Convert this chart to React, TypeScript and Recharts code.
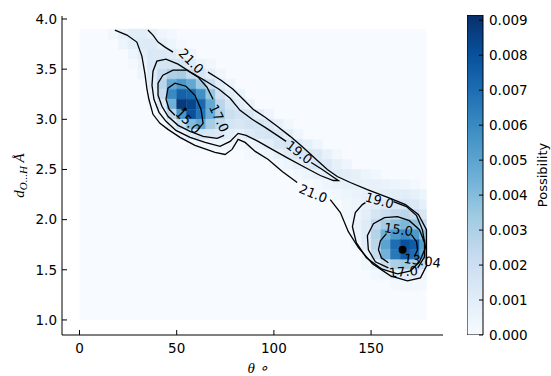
import React from 'react';
import {
  ScatterChart,
  Scatter,
  XAxis,
  YAxis,
  ReferenceArea,
  BarChart,
  Bar
} from 'recharts';

// axis ticks
const thetaTicks = [0, 50, 100, 150];
const distTicks = [1.0, 1.5, 2.0, 2.5, 3.0, 3.5, 4.0];
const probTicks = [0, 0.001, 0.002, 0.003, 0.004, 0.005, 0.006, 0.007, 0.008, 0.009];

// 2d histogram, 5 deg x 0.1 A bins, values in units of 1e-4
const THETA_BIN = 5;
const DIST_BIN = 0.1;
const THETA_MAX = 178.5;
const PROB_MAX = 0.00915;

const histRows = [
  { d: 3.8, t0: 15, v: [3, 7, 10, 10, 8, 4, 2] },
  { d: 3.7, t0: 20, v: [5, 9, 12, 12, 8, 5, 2] },
  { d: 3.6, t0: 25, v: [5, 9, 13, 13, 11, 8, 4] },
  { d: 3.5, t0: 25, v: [2, 6, 13, 16, 16, 16, 11, 6, 3] },
  { d: 3.4, t0: 30, v: [4, 12, 22, 30, 32, 24, 15, 9, 4] },
  { d: 3.3, t0: 35, v: [10, 26, 48, 55, 48, 34, 20, 10, 5] },
  { d: 3.2, t0: 35, v: [6, 22, 60, 74, 72, 58, 36, 18, 10, 6] },
  { d: 3.1, t0: 35, v: [3, 12, 45, 88, 84, 72, 48, 26, 16, 10, 6] },
  { d: 3.0, t0: 40, v: [5, 25, 55, 80, 68, 46, 30, 20, 17, 15, 9, 4] },
  { d: 2.9, t0: 45, v: [8, 20, 40, 48, 32, 24, 16, 14, 17, 16, 13, 7, 3] },
  { d: 2.8, t0: 50, v: [6, 12, 16, 14, 13, 9, 7, 12, 14, 16, 15, 10, 4] },
  { d: 2.7, t0: 55, v: [3, 4, 4, 5, 4, 3, 4, 6, 9, 14, 16, 12, 8, 4] },
  { d: 2.6, t0: 85, v: [2, 3, 5, 8, 11, 14, 16, 13, 7, 3] },
  { d: 2.5, t0: 100, v: [3, 5, 8, 12, 14, 13, 8, 4] },
  { d: 2.4, t0: 110, v: [3, 5, 7, 9, 11, 10, 8, 5, 3] },
  { d: 2.3, t0: 120, v: [2, 4, 6, 8, 8, 7, 7, 6, 5, 4, 2] },
  { d: 2.2, t0: 130, v: [3, 5, 6, 7, 8, 9, 9, 10, 8, 5] },
  { d: 2.1, t0: 135, v: [3, 5, 7, 10, 13, 14, 15, 13, 8] },
  { d: 2.0, t0: 135, v: [3, 5, 9, 16, 20, 24, 26, 22, 14] },
  { d: 1.9, t0: 140, v: [6, 11, 24, 32, 38, 42, 37, 24] },
  { d: 1.8, t0: 140, v: [5, 11, 28, 44, 54, 60, 54, 37] },
  { d: 1.7, t0: 140, v: [3, 9, 26, 50, 70, 80, 76, 52] },
  { d: 1.6, t0: 145, v: [5, 22, 44, 66, 76, 70, 48] },
  { d: 1.5, t0: 145, v: [3, 9, 20, 30, 34, 30, 20] },
  { d: 1.4, t0: 150, v: [3, 5, 8, 10, 9, 5] },
  { d: 1.3, t0: 160, v: [2, 3, 3, 2] }
];

// free energy contours, [theta, d]
const c21Left = [
  [18.2, 3.89], [24.4, 3.84], [29.5, 3.77], [32.1, 3.63], [33.7, 3.45], [34.7, 3.3],
  [35.7, 3.2], [37.8, 3.05], [41.4, 2.96], [45.5, 2.9], [51.7, 2.82], [59.4, 2.74],
  [69.7, 2.67], [74.9, 2.65], [78.5, 2.7], [81.6, 2.8], [85.2, 2.77], [90.4, 2.68],
  [97.1, 2.6], [104.3, 2.48], [112.0, 2.37]
];
const c21Right = [
  [129.0, 2.2], [134.2, 2.07], [138.3, 1.88], [143.5, 1.72], [150.7, 1.56], [160.0, 1.44],
  [168.7, 1.39], [175.4, 1.42], [178.5, 1.54], [178.5, 1.72], [178.5, 1.9], [174.4, 2.05],
  [167.7, 2.15], [158.9, 2.22], [148.1, 2.3], [139.3, 2.37], [132.6, 2.43], [127.5, 2.5],
  [121.8, 2.6], [115.1, 2.72], [108.4, 2.83], [101.7, 2.93], [95.5, 3.02], [89.3, 3.1],
  [84.2, 3.2], [79.0, 3.3], [72.8, 3.39], [66.1, 3.47]
];
const c21Top = [[48.1, 3.67], [44.0, 3.72], [40.4, 3.77], [37.8, 3.84], [35.2, 3.89]];
const c19Upper = [
  [119.2, 2.57], [124.9, 2.5], [130.1, 2.43], [133.2, 2.39], [130.6, 2.39], [123.9, 2.44],
  [116.1, 2.52], [107.4, 2.61], [99.1, 2.7], [91.9, 2.78], [85.7, 2.84], [81.6, 2.86],
  [77.5, 2.78], [72.3, 2.73], [64.6, 2.77], [56.9, 2.82], [49.6, 2.89], [44.5, 2.98],
  [40.9, 3.07], [38.3, 3.2], [37.3, 3.34], [37.8, 3.48], [39.8, 3.58], [44.5, 3.6],
  [50.7, 3.55], [58.0, 3.46], [65.1, 3.38], [71.8, 3.3], [77.5, 3.21], [82.6, 3.09],
  [88.8, 3.0], [95.5, 2.92], [101.7, 2.84], [106.3, 2.78]
];
const c19Lower = [
  [161.5, 2.18], [168.2, 2.13], [173.4, 2.04], [176.4, 1.9], [178.0, 1.72], [174.9, 1.58],
  [170.3, 1.49], [163.6, 1.46], [155.3, 1.51], [147.6, 1.62], [142.4, 1.77], [140.4, 1.93],
  [141.9, 2.07], [145.5, 2.15], [147.1, 2.17]
];
const c17Upper = [
  [68.7, 3.2], [65.6, 3.32], [61.0, 3.42], [55.3, 3.49], [48.1, 3.49], [42.9, 3.44],
  [40.4, 3.36], [40.4, 3.24], [42.4, 3.13], [45.5, 3.03], [50.7, 2.94], [56.9, 2.88],
  [63.6, 2.83], [70.8, 2.81], [74.4, 2.84]
];
const c17Lower = [
  [174.0, 1.52], [177.5, 1.63], [177.5, 1.77], [174.9, 1.9], [169.7, 1.99], [163.6, 2.03],
  [156.9, 2.02], [151.2, 1.96], [148.1, 1.84], [148.6, 1.7], [152.2, 1.58], [158.9, 1.52]
];
const c15Upper = [
  [61.0, 2.9], [63.6, 2.96], [62.5, 3.1], [59.4, 3.24], [54.8, 3.33], [49.1, 3.36],
  [45.5, 3.31], [44.5, 3.2], [46.1, 3.1], [49.1, 3.04]
];
const c15LowerLeft = [[157.9, 1.86], [154.8, 1.79], [153.8, 1.7], [155.3, 1.62], [158.9, 1.57]];
const c15LowerRight = [[170.7, 1.85], [173.4, 1.78], [173.9, 1.7], [172.3, 1.63]];

const contourLabels = [
  { x: 57.4, y: 3.58, text: '21.0', angle: 45 },
  { x: 71.8, y: 3.01, text: '17.0', angle: 65 },
  { x: 55.8, y: 2.98, text: '15.0', angle: 45 },
  { x: 113.0, y: 2.67, text: '19.0', angle: 38 },
  { x: 120.2, y: 2.26, text: '21.0', angle: 22 },
  { x: 154.3, y: 2.19, text: '19.0', angle: 16 },
  { x: 164.1, y: 1.9, text: '15.0', angle: 8 },
  { x: 176.4, y: 1.59, text: '13.04', angle: 8 },
  { x: 166.6, y: 1.48, text: '17.0', angle: -5 }
];

const globalMin = [{ x: 166.2, y: 1.7 }];
const localMin = [{ x: 54.3, y: 3.1 }];

const BLUES = ['#f7fbff', '#deebf7', '#c6dbef', '#9ecae1', '#6baed6', '#4292c6', '#2171b5', '#08519c', '#08306b'];

const hexToRgb = (h: string) => [1, 3, 5].map((i) => parseInt(h.slice(i, i + 2), 16));

const bluesAt = (t: number) => {
  const p = Math.max(0, Math.min(1, t)) * 8;
  const i = Math.min(7, Math.floor(p));
  const f = p - i;
  const a = hexToRgb(BLUES[i]);
  const b = hexToRgb(BLUES[i + 1]);
  const c = a.map((ch, k) => Math.round(ch + (b[k] - ch) * f));
  return `rgb(${c[0]},${c[1]},${c[2]})`;
};

const toPoints = (arr: number[][]) => arr.map(([x, y]) => ({ x, y }));

const cells = histRows.flatMap((row) =>
  row.v.map((val, i) => ({
    x1: row.t0 + i * THETA_BIN,
    x2: Math.min(row.t0 + (i + 1) * THETA_BIN, THETA_MAX),
    y1: row.d,
    y2: row.d + DIST_BIN,
    fill: bluesAt(val / 10000 / PROB_MAX)
  }))
);

const contours = [
  c21Left, c21Right, c21Top, c19Upper, c19Lower,
  c17Upper, c17Lower, c15Upper, c15LowerLeft, c15LowerRight
];

const colorbarData = [{ name: 'Possibility', top: PROB_MAX }];

const tickFont = { fill: '#000', fontSize: 13.5, fontFamily: 'DejaVu Sans' };
const frame = { stroke: '#000', strokeWidth: 1 };

const NoDot = () => <g />;

const ContourLabel = (props: any) => {
  const { cx, cy, payload } = props;
  return (
    <text
      x={cx}
      y={cy}
      transform={`rotate(${payload.angle} ${cx} ${cy})`}
      textAnchor="middle"
      dominantBaseline="central"
      fontSize={13}
      fontFamily="DejaVu Sans"
      fill="#000"
    >
      {payload.text}
    </text>
  );
};

const App: React.FC = () => {
  return (
    <div style={{ position: 'absolute', left: 0, top: 0, width: 551, height: 376, background: '#fff' }}>
      <div style={{ position: 'absolute', left: 0, top: 0 }}>
        <ScatterChart width={551} height={376} margin={{ top: 16, right: 108, bottom: 0, left: 0 }}>
          <XAxis
            type="number"
            dataKey="x"
            domain={[-9, 187]}
            allowDataOverflow
            ticks={thetaTicks}
            height={41}
            tickSize={-5}
            tickMargin={13}
            tick={tickFont}
            axisLine={frame}
            tickLine={frame}
            label={(p: any) => (
              <text
                x={p.viewBox.x + p.viewBox.width / 2 + 5}
                y={373}
                textAnchor="middle"
                fontFamily="Liberation Serif"
                fontStyle="italic"
                fontSize={15}
                fill="#000"
              >
                θ ∘
              </text>
            )}
          />
          <XAxis
            xAxisId="top"
            orientation="top"
            type="number"
            domain={[-9, 187]}
            allowDataOverflow
            ticks={thetaTicks}
            height={0}
            tick={false}
            tickSize={-5}
            axisLine={frame}
            tickLine={frame}
          />
          <YAxis
            type="number"
            dataKey="y"
            domain={[0.85, 4.03]}
            allowDataOverflow
            ticks={distTicks}
            width={62}
            tickSize={-5}
            tickMargin={10}
            tick={tickFont}
            tickFormatter={(v: number) => v.toFixed(1)}
            axisLine={frame}
            tickLine={frame}
            label={(p: any) => {
              const cx = 24;
              const cy = p.viewBox.y + p.viewBox.height / 2;
              return (
                <text
                  x={cx}
                  y={cy}
                  transform={`rotate(-90 ${cx} ${cy})`}
                  textAnchor="middle"
                  fontFamily="Liberation Serif"
                  fontStyle="italic"
                  fontSize={15}
                  fill="#000"
                >
                  d
                  <tspan fontSize={11} dy={3}>O...H</tspan>
                  <tspan dy={-3}> Å</tspan>
                </text>
              );
            }}
          />
          <YAxis
            yAxisId="right"
            orientation="right"
            type="number"
            domain={[0.85, 4.03]}
            allowDataOverflow
            ticks={distTicks}
            width={0}
            tick={false}
            tickSize={-5}
            axisLine={frame}
            tickLine={frame}
          />

          <ReferenceArea
            x1={0}
            x2={THETA_MAX}
            y1={1.0}
            y2={3.9}
            fill={BLUES[0]}
            fillOpacity={1}
            stroke="none"
          />
          {cells.map((c, i) => (
            <ReferenceArea
              key={`cell-${i}`}
              x1={c.x1}
              x2={c.x2}
              y1={c.y1}
              y2={c.y2}
              fill={c.fill}
              fillOpacity={1}
              stroke={c.fill}
              strokeWidth={0.5}
            />
          ))}

          {contours.map((pts, i) => (
            <Scatter
              key={`contour-${i}`}
              data={toPoints(pts)}
              fill="#000"
              line={{ strokeWidth: 1.3 }}
              lineType="joint"
              shape={NoDot}
              isAnimationActive={false}
            />
          ))}
          <Scatter data={contourLabels} shape={ContourLabel} isAnimationActive={false} />
          <Scatter
            data={globalMin}
            shape={(p: any) => <circle cx={p.cx} cy={p.cy} r={4} fill="#000" />}
            isAnimationActive={false}
          />
          <Scatter
            data={localMin}
            shape={(p: any) => <circle cx={p.cx} cy={p.cy} r={1.8} fill="#000" />}
            isAnimationActive={false}
          />
        </ScatterChart>
      </div>

      <div style={{ position: 'absolute', left: 467, top: 0 }}>
        <BarChart
          width={84}
          height={376}
          data={colorbarData}
          margin={{ top: 15, right: 0, bottom: 41, left: 0 }}
          barCategoryGap={0}
        >
          <defs>
            <linearGradient id="bluesGrad" x1="0" y1="1" x2="0" y2="0">
              {BLUES.map((c, i) => (
                <stop key={c} offset={i / (BLUES.length - 1)} stopColor={c} />
              ))}
            </linearGradient>
          </defs>
          <XAxis dataKey="name" hide />
          <YAxis
            orientation="right"
            width={68}
            domain={[0, PROB_MAX]}
            allowDataOverflow
            ticks={probTicks}
            tickSize={-4}
            tickMargin={10}
            tick={tickFont}
            tickFormatter={(v: number) => v.toFixed(3)}
            axisLine={false}
            tickLine={frame}
            label={(p: any) => {
              const cx = p.viewBox.x + p.viewBox.width - 4;
              const cy = p.viewBox.y + p.viewBox.height / 2;
              return (
                <text
                  x={cx}
                  y={cy}
                  transform={`rotate(-90 ${cx} ${cy})`}
                  textAnchor="middle"
                  fontFamily="DejaVu Sans"
                  fontSize={13}
                  fill="#000"
                >
                  Possibility
                </text>
              );
            }}
          />
          <Bar
            dataKey="top"
            fill="url(#bluesGrad)"
            stroke="#000"
            strokeWidth={1}
            isAnimationActive={false}
          />
        </BarChart>
      </div>
    </div>
  );
};

export default App;
